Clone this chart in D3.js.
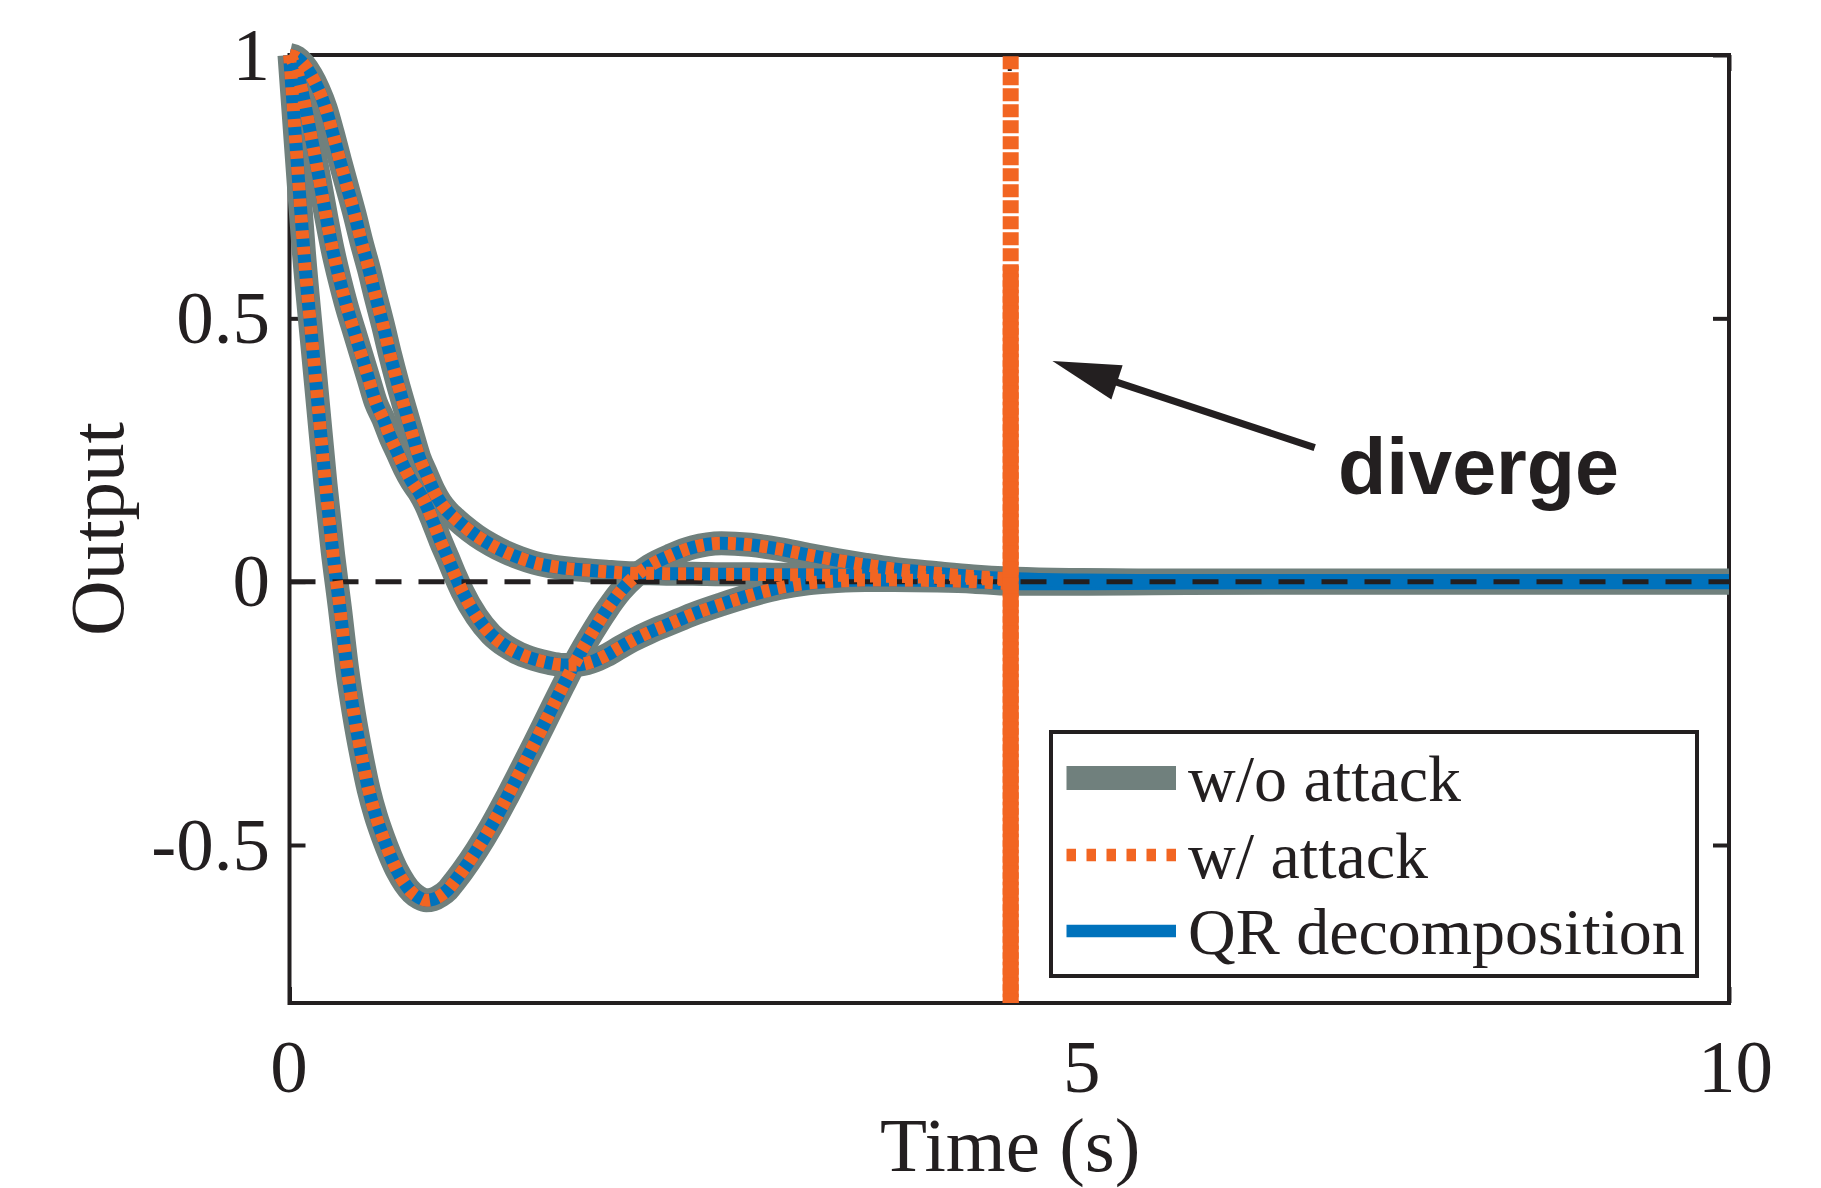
<!DOCTYPE html>
<html><head><meta charset="utf-8">
<script src="https://cdn.jsdelivr.net/npm/d3@7"></script>
<style>body{margin:0;background:#fff}svg{display:block}</style>
</head><body>
<svg id="chart" width="1821" height="1188"></svg>
<script>
// ---------------- data ----------------
const time = [0, 0.05, 0.1, 0.15, 0.2, 0.25, 0.3, 0.35, 0.4, 0.45, 0.5, 0.55, 0.6, 0.65, 0.7, 0.75, 0.8, 0.85, 0.9, 0.95,
  1.0, 1.05, 1.1, 1.15, 1.2, 1.3, 1.4, 1.5, 1.6, 1.7, 1.8, 1.9, 2.0, 2.1, 2.2, 2.3, 2.4, 2.5, 2.65, 2.8,
  3.0, 3.2, 3.4, 3.6, 3.8, 4.0, 4.2, 4.5, 4.75, 5.0, 5.5, 6.0, 7.0, 8.0, 9.0, 10.0];
const output1 = [1.0, 0.81, 0.625, 0.475, 0.33, 0.185, 0.058, -0.05, -0.165, -0.255, -0.33, -0.395, -0.445, -0.485, -0.52, -0.55, -0.573, -0.59, -0.6, -0.605,
  -0.603, -0.596, -0.585, -0.568, -0.55, -0.51, -0.465, -0.415, -0.362, -0.308, -0.253, -0.198, -0.145, -0.098, -0.055, -0.018, 0.01, 0.03, 0.05, 0.065,
  0.073, 0.07, 0.062, 0.051, 0.041, 0.032, 0.024, 0.016, 0.01, 0.006, 0.003, 0.002, 0.002, 0.002, 0.002, 0.002];
const output2 = [1.0, 0.97, 0.915, 0.845, 0.775, 0.70, 0.63, 0.572, 0.52, 0.475, 0.43, 0.385, 0.34, 0.31, 0.275, 0.245, 0.215, 0.19, 0.17, 0.145,
  0.112, 0.077, 0.045, 0.012, -0.018, -0.066, -0.1, -0.122, -0.137, -0.147, -0.154, -0.158, -0.158, -0.152, -0.14, -0.124, -0.109, -0.096, -0.079, -0.062,
  -0.043, -0.026, -0.012, -0.003, 0.001, 0.003, 0.003, 0.002, 0.0, -0.004, -0.004, -0.003, -0.002, -0.002, -0.002, -0.002];
const output3 = [1.0, 0.995, 0.982, 0.962, 0.935, 0.9, 0.852, 0.80, 0.75, 0.70, 0.645, 0.595, 0.54, 0.487, 0.43, 0.378, 0.33, 0.283, 0.237, 0.205,
  0.174, 0.15, 0.133, 0.12, 0.108, 0.087, 0.07, 0.056, 0.045, 0.036, 0.03, 0.026, 0.023, 0.021, 0.019, 0.017, 0.016, 0.016, 0.015, 0.015,
  0.014, 0.014, 0.013, 0.013, 0.012, 0.011, 0.01, 0.008, 0.006, 0.004, 0.002, 0.001, 0.0, 0.0, 0.0, 0.0];
const attackEndTime = 5.0;       // w/ attack follows the nominal response until here
const divergeTime = 5.01;        // then it diverges (vertical blow-up)
const divergeSpans = [[-50, 50], [-50, 0.6]];
const xTicks = [0, 5, 10];
const xTickLabels = ["0", "5", "10"];
const yTicks = [-0.5, 0, 0.5, 1];
const yTickLabels = ["-0.5", "0", "0.5", "1"];
const legendLabels = ["w/o attack", "w/ attack", "QR decomposition"];
const xTitle = "Time (s)";
const yTitle = "Output";
const annotationText = "diverge";
const arrowTail = [7.122, 0.2546];
const arrowTip = [5.30, 0.419];
const annotationPos = [7.284, 0.167];

// ---------------- layout / style ----------------
const plot = {left: 289.5, right: 1729, top: 55, bottom: 1003};
const ink = "#231f20";
const grayC = "#70807d", blueC = "#0072bc", orangeC = "#f26522";
const serif = "'Liberation Serif','Times New Roman',Times,serif";
const sans = "'Liberation Sans',Arial,Helvetica,sans-serif";
const xTickLabelShift = [-1, 72, 6];

const svg = d3.select("#chart");
const x = d3.scaleLinear().domain([0, 10]).range([plot.left, plot.right]);
const y = d3.scaleLinear().domain([-0.8, 1]).range([plot.bottom, plot.top]);

svg.append("defs").append("clipPath").attr("id", "plotClip").append("rect")
  .attr("x", plot.left).attr("y", plot.top)
  .attr("width", plot.right - plot.left).attr("height", plot.bottom - plot.top);

// box
svg.append("rect").attr("x", plot.left).attr("y", plot.top)
  .attr("width", plot.right - plot.left).attr("height", plot.bottom - plot.top)
  .attr("fill", "none").attr("stroke", ink).attr("stroke-width", 4);

function styleAxis(g) {
  g.select(".domain").remove();
  g.selectAll(".tick line").attr("stroke", ink).attr("stroke-width", 4);
  g.selectAll(".tick text").attr("font-family", serif).attr("font-size", 75).attr("fill", ink);
}
const gx = svg.append("g").attr("transform", `translate(0,${plot.bottom})`)
  .call(d3.axisBottom(x).tickValues(xTicks).tickSize(-16).tickSizeOuter(0).tickPadding(36)
    .tickFormat(d => xTickLabels[xTicks.indexOf(d)]));
styleAxis(gx);
gx.selectAll(".tick text").attr("dx", d => xTickLabelShift[xTicks.indexOf(d)]);
const gxt = svg.append("g").attr("transform", `translate(0,${plot.top})`)
  .call(d3.axisTop(x).tickValues(xTicks).tickSize(-16).tickSizeOuter(0).tickFormat(""));
styleAxis(gxt);
const gy = svg.append("g").attr("transform", `translate(${plot.left},0)`)
  .call(d3.axisLeft(y).tickValues(yTicks).tickSize(-16).tickSizeOuter(0).tickPadding(19.5)
    .tickFormat(d => yTickLabels[yTicks.indexOf(d)]));
styleAxis(gy);
const gyr = svg.append("g").attr("transform", `translate(${plot.right},0)`)
  .call(d3.axisRight(y).tickValues(yTicks).tickSize(-16).tickSizeOuter(0).tickFormat(""));
styleAxis(gyr);

// data
const outputs = [output1, output2, output3];
const series = outputs.map(o => time.map((t, i) => ({t, v: o[i]})));
const attackSeries = series.map(s => s.filter(d => d.t <= attackEndTime));
const line = d3.line().x(d => x(d.t)).y(d => y(d.v)).curve(d3.curveMonotoneX);

const gData = svg.append("g");
gData.selectAll("path.nom").data(series).join("path").attr("class", "nom")
  .attr("d", line).attr("fill", "none").attr("stroke", grayC).attr("stroke-width", 24)
  .attr("stroke-linejoin", "round");
gData.selectAll("path.qr").data(series).join("path").attr("class", "qr")
  .attr("d", line).attr("fill", "none").attr("stroke", blueC).attr("stroke-width", 13)
  .attr("stroke-linejoin", "round");
// zero reference line
gData.append("line").attr("x1", x(0)).attr("x2", x(10)).attr("y1", y(0)).attr("y2", y(0))
  .attr("stroke", ink).attr("stroke-width", 5).attr("stroke-dasharray", "26,17");
gData.selectAll("path.atk").data(attackSeries).join("path").attr("class", "atk")
  .attr("d", line).attr("fill", "none").attr("stroke", orangeC).attr("stroke-width", 13)
  .attr("stroke-dasharray", "8,8");
// divergence
svg.append("g").attr("clip-path", "url(#plotClip)")
  .selectAll("line").data(divergeSpans).join("line")
  .attr("x1", x(divergeTime)).attr("x2", x(divergeTime))
  .attr("y1", d => y(d[1])).attr("y2", d => y(d[0]))
  .attr("stroke", orangeC).attr("stroke-width", 16)
  .attr("stroke-dasharray", "13,3").attr("stroke-dashoffset", (d, i) => i * 8);

// axis titles
svg.append("text").attr("x", (plot.left + plot.right) / 2 + 1).attr("y", 1171)
  .attr("text-anchor", "middle").attr("font-family", serif).attr("font-size", 77).attr("fill", ink)
  .text(xTitle);
svg.append("text").attr("transform", `translate(123,${(plot.top + plot.bottom) / 2}) rotate(-90)`)
  .attr("text-anchor", "middle").attr("font-family", serif).attr("font-size", 77).attr("fill", ink)
  .text(yTitle);

// annotation
const tail = [x(arrowTail[0]), y(arrowTail[1])], tip = [x(arrowTip[0]), y(arrowTip[1])];
const dx = tip[0] - tail[0], dy = tip[1] - tail[1], L = Math.hypot(dx, dy);
const ux = dx / L, uy = dy / L, headLen = 68, headHalf = 18;
const base = [tip[0] - headLen * ux, tip[1] - headLen * uy];
svg.append("line").attr("x1", tail[0]).attr("y1", tail[1]).attr("x2", base[0] + 2 * ux).attr("y2", base[1] + 2 * uy)
  .attr("stroke", ink).attr("stroke-width", 7);
svg.append("polygon").attr("points", [
  tip, [base[0] - uy * headHalf, base[1] + ux * headHalf], [base[0] + uy * headHalf, base[1] - ux * headHalf]
].map(p => p.join(",")).join(" ")).attr("fill", ink);
svg.append("text").attr("x", x(annotationPos[0])).attr("y", y(annotationPos[1]))
  .attr("font-family", sans).attr("font-weight", "bold").attr("font-size", 79).attr("fill", ink)
  .text(annotationText);

// legend
const leg = {left: 1051, top: 732, right: 1697, bottom: 976};
svg.append("rect").attr("x", leg.left).attr("y", leg.top).attr("width", leg.right - leg.left)
  .attr("height", leg.bottom - leg.top).attr("fill", "#fff").attr("stroke", ink).attr("stroke-width", 4);
const legStyles = [
  {stroke: grayC, width: 24, dash: null},
  {stroke: orangeC, width: 12.7, dash: "9.5,10.5"},
  {stroke: blueC, width: 12.3, dash: null}
];
const legRowY = [778, 855, 931];
legendLabels.forEach((lab, i) => {
  svg.append("line").attr("x1", 1066.5).attr("x2", 1176).attr("y1", legRowY[i]).attr("y2", legRowY[i])
    .attr("stroke", legStyles[i].stroke).attr("stroke-width", legStyles[i].width)
    .attr("stroke-dasharray", legStyles[i].dash);
  svg.append("text").attr("x", 1188).attr("y", legRowY[i] + 22.5)
    .attr("font-family", serif).attr("font-size", 66).attr("fill", ink).text(lab);
});
</script>
</body></html>
